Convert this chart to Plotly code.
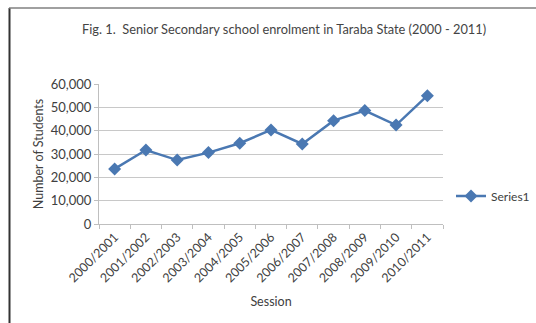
import plotly.graph_objects as go

sessions = ["2000/2001", "2001/2002", "2002/2003", "2003/2004", "2004/2005",
            "2005/2006", "2006/2007", "2007/2008", "2008/2009", "2009/2010", "2010/2011"]
students = [23600, 31700, 27400, 30600, 34600, 40300, 34300, 44300, 48600, 42400, 55000]

W, H = 536, 323
L, R, T, B = 99, 93, 84, 99
pw, ph = W - L - R, H - T - B

def px(x):
    return (x - L) / pw

def py(y):
    return (H - B - y) / ph

font = "Lato, 'Open Sans', sans-serif"
txt = "#404040"

fig = go.Figure()
fig.add_trace(go.Scatter(
    x=sessions, y=students, mode="lines+markers", name="Series1",
    line=dict(color="#4a78b2", width=2.5),
    marker=dict(symbol="diamond", size=10, color="#4a78b2"),
))

fig.update_layout(
    width=W, height=H,
    margin=dict(l=L, r=R, t=T, b=B, autoexpand=False),
    paper_bgcolor="white", plot_bgcolor="white",
    font=dict(family=font, size=12, color=txt),
    title=dict(text="Fig. 1.  Senior Secondary school enrolment in Taraba State (2000 - 2011)",
               x=0.53, xanchor="center", y=1 - 30 / H, yanchor="middle",
               font=dict(size=12.8, color="#444444")),
    showlegend=True,
    legend=dict(x=px(451), xanchor="left", y=py(196), yanchor="middle",
                font=dict(size=12, color=txt), bgcolor="rgba(0,0,0,0)",
                itemwidth=30),
    xaxis=dict(
        type="category", tickangle=-45, tickfont=dict(size=12.5, color=txt),
        showgrid=False, showline=True, linecolor="#bfbfbf", linewidth=1,
        ticks="outside", ticklen=4, tickcolor="#bfbfbf", tickson="boundaries",
        title=dict(text="Session", font=dict(size=12.5, color=txt), standoff=12),
        range=[-0.5, 10.5],
    ),
    yaxis=dict(
        range=[0, 60000], dtick=10000, tickformat=",",
        tickfont=dict(size=13, color=txt),
        showgrid=True, gridcolor="#c8c8c8", gridwidth=1,
        showline=True, linecolor="#bfbfbf", linewidth=1,
        ticks="outside", ticklen=4, tickcolor="#bfbfbf",
        zeroline=False,
        title=dict(text="Number of Students", font=dict(size=12.5, color=txt), standoff=4),
    ),
    shapes=[
        dict(type="line", xref="paper", yref="paper", x0=px(9.5), x1=px(9.5),
             y0=py(8), y1=py(H + 2), line=dict(color="#333333", width=2)),
        dict(type="line", xref="paper", yref="paper", x0=px(9), x1=px(W + 2),
             y0=py(8), y1=py(8), line=dict(color="#808080", width=1.5)),
    ],
)

fig.write_html("out.html")
